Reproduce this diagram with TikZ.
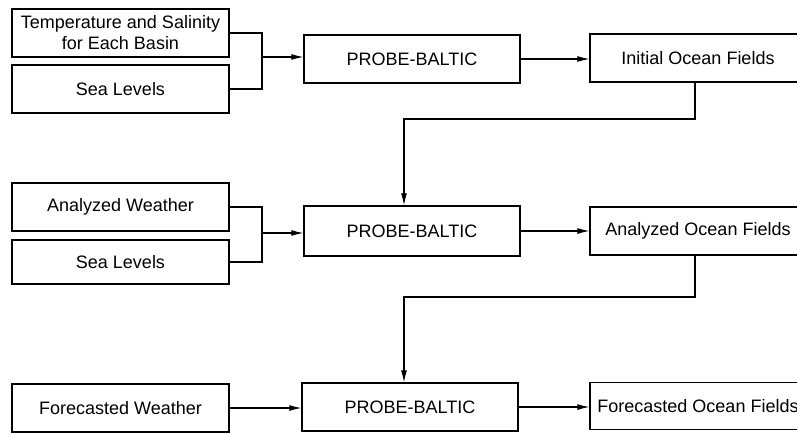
\documentclass[tikz,border=0pt]{standalone}
\usepackage{fontspec}
\setmainfont{Liberation Sans}
\usetikzlibrary{arrows.meta}
\begin{document}
\begin{tikzpicture}[x=1pt,y=-1pt,
  box/.style={draw,line width=1.3pt,inner sep=1pt,align=center,
    font=\fontsize{18}{21}\selectfont},
  lbox/.style={box,minimum width=217pt,minimum height=48pt},
  pbox/.style={box,minimum width=216pt,minimum height=48pt},
  rbox/.style={box,minimum width=216pt,minimum height=48pt},
  conn/.style={line width=1.1pt},
  arr/.style={conn,-{Latex[length=12pt,width=6pt]}}]
\useasboundingbox (0,0) rectangle (797,434);
\clip (0,0) rectangle (797,434);
\fill[white] (0,0) rectangle (797,434);
% row 1
\node[lbox] (T) at (120.5,33) {Temperature and Salinity\\for Each Basin};
\node[lbox] (S1) at (120.5,89) {Sea Levels};
\node[pbox] (P1) at (412,59) {PROBE-BALTIC};
\node[rbox] (I) at (698,58) {Initial Ocean Fields};
% row 2
\node[lbox] (A) at (120.5,207) {Analyzed Weather};
\node[lbox,minimum height=44pt] (S2) at (120.5,262) {Sea Levels};
\node[pbox,minimum height=50pt] (P2) at (412,231) {PROBE-BALTIC};
\node[rbox] (AO) at (698,231) {Analyzed Ocean Fields};
% row 3
\node[lbox] (F) at (120.5,408) {Forecasted Weather};
\node[pbox] (P3) at (410,407) {PROBE-BALTIC};
\node[rbox,minimum height=47pt] (FO) at (698,406) {Forecasted Ocean Fields};
% junctions
\coordinate (j1) at (262,57);
\coordinate (j2) at (262,233);
\coordinate (k1) at (404,119);
\coordinate (k2) at (404,297);
% connectors row 1
\draw[conn] (T.east) -| (j1);
\draw[conn] (S1.east) -| (j1);
\draw[arr] (j1) -- (j1 -| P1.west);
\draw[arr] (P1.east) -- (P1.east -| I.west);
\draw[arr] (I.south -| 695,0) |- (k1) -- (k1 |- P2.north);
% row 2
\draw[conn] (A.east) -| (j2);
\draw[conn] (S2.east) -| (j2);
\draw[arr] (j2) -- (j2 -| P2.west);
\draw[arr] (P2.east) -- (P2.east -| AO.west);
\draw[arr] (AO.south -| 695,0) |- (k2) -- (k2 |- P3.north);
% row 3
\draw[arr] (F.east) -- (F.east -| P3.west);
\draw[arr] (P3.east) -- (P3.east -| FO.west);
\end{tikzpicture}
\end{document}
